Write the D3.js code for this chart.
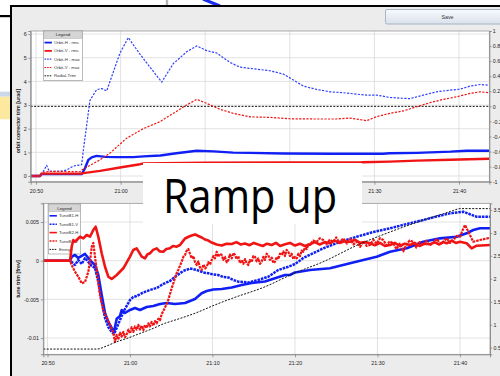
<!DOCTYPE html>
<html>
<head>
<meta charset="utf-8">
<script src="https://cdn.jsdelivr.net/npm/d3@7"></script>
<style>
  html, body { margin: 0; padding: 0; background: #fff; }
  svg { display: block; font-family: "Liberation Sans", Arial, sans-serif; }
</style>
</head>
<body>
<svg id="screen" width="500" height="376"></svg>
<script>
// ---- Data: time as minutes after 20:00 ----

// Orbit corrector trims [urad]
const orbitHrms = [[49.37,0],[50.47,0],[50.67,0.08],[55.4,0.08],[55.6,0.2],[55.79,0.33],[56.18,0.68],[56.58,0.79],[57.17,0.85],[58.2,0.81],[59.5,0.8],[61.5,0.8],[62.7,0.83],[64.7,0.87],[66.6,0.96],[69.0,1.07],[71.0,1.04],[73.3,0.99],[75.3,0.98],[79.2,0.95],[85,0.94],[91.0,0.94],[91.8,0.96],[95.0,0.98],[99.0,1.03],[100.9,1.07],[103.58,1.07]];
const orbitVrms = [[49.37,0],[50.47,0],[50.65,0.1],[55.4,0.1],[55.6,0.12],[57.57,0.22],[59.93,0.36],[62.3,0.5],[62.7,0.53],[70,0.56],[80,0.57],[88.5,0.58],[91.8,0.61],[95,0.65],[99,0.69],[103.58,0.73]];
const orbitHmax = [[49.37,0],[50.47,0],[50.86,0.2],[51.26,0.45],[51.57,0.2],[52.84,0.2],[53.6,0.25],[54.41,0.42],[55.4,0.48],[55.6,1.1],[56.38,3.2],[57.17,3.65],[57.77,3.7],[58.36,3.6],[59.14,4.4],[59.93,5.2],[60.91,5.85],[62.29,5.15],[63.48,4.6],[64.86,3.97],[66.23,4.75],[67.81,5.25],[69.0,5.5],[70.18,5.3],[71.36,5.2],[72.93,4.8],[74.11,4.6],[75.3,4.55],[77.66,4.45],[79.23,4.31],[80.42,4.06],[81.6,3.8],[83.18,3.66],[84.75,3.56],[86.32,3.52],[87.9,3.46],[89.09,3.42],[90.27,3.42],[91.84,3.32],[94.2,3.27],[95.78,3.42],[97.36,3.56],[98.94,3.63],[100.12,3.67],[101.3,3.8],[102.48,3.87],[103.58,3.84]];
const orbitVmax = [[49.37,0],[50.47,0],[50.67,0.15],[51.65,0.2],[55.2,0.18],[55.4,0.25],[56.38,0.45],[57.57,0.68],[58.75,0.97],[60.72,1.6],[62.68,2.0],[64.66,2.3],[66.23,2.65],[67.81,3.0],[69.0,3.24],[70.18,3.07],[71.75,2.82],[73.32,2.65],[75.3,2.5],[77.66,2.48],[80.02,2.42],[83.18,2.41],[85.54,2.41],[87.12,2.45],[89.09,2.34],[90.27,2.51],[91.84,2.65],[93.42,2.75],[95.0,2.93],[96.57,3.1],[98.15,3.24],[99.73,3.35],[101.3,3.49],[102.48,3.56],[103.58,3.52]];
// Radial trim on the right-hand axis
const radialTrim = [[49.37,0],[103.58,0]];

// Tune trims [frev]
const tuneB1H = [[49.49,0],[52.73,0],[52.93,0.48e-3],[53.33,0.74e-3],[53.73,0.35e-3],[54.15,0.61e-3],[54.55,0.87e-3],[54.95,0.35e-3],[55.36,-0.17e-3],[55.76,-0.56e-3],[56.16,-1.85e-3],[56.57,-4.43e-3],[56.97,-6.76e-3],[57.37,-7.92e-3],[57.78,-8.7e-3],[58.06,-9.21e-3],[58.39,-7.5e-3],[58.79,-7.14e-3],[58.99,-6.37e-3],[59.39,-6.76e-3],[60.0,-6.37e-3],[60.61,-6.11e-3],[61.21,-6.37e-3],[62.02,-5.98e-3],[62.82,-5.85e-3],[63.64,-5.59e-3],[64.45,-5.47e-3],[65.45,-5.59e-3],[66.67,-5.47e-3],[67.88,-4.95e-3],[68.69,-4.21e-3],[69.3,-3.91e-3],[70.1,-3.72e-3],[71.12,-3.66e-3],[72.33,-3.46e-3],[73.54,-3.14e-3],[74.75,-2.88e-3],[76.36,-2.69e-3],[77.58,-2.27e-3],[78.79,-1.85e-3],[79.39,-1.85e-3],[80.0,-1.52e-3],[81.82,-1.2e-3],[84.24,-0.98e-3],[86.67,-0.34e-3],[88.28,0.09e-3],[89.9,0.52e-3],[91.52,1.16e-3],[93.54,1.6e-3],[95.55,2.45e-3],[97.58,2.89e-3],[99.6,3.1e-3],[100.81,3.54e-3],[101.61,3.97e-3],[102.42,4.19e-3],[103.64,4.19e-3]];
const tuneB1V = [[49.49,0],[52.73,0],[52.93,-0.17e-3],[53.33,-0.56e-3],[53.73,0.09e-3],[54.15,-0.43e-3],[54.55,0.35e-3],[54.95,-0.17e-3],[55.36,-0.68e-3],[55.76,-0.94e-3],[56.16,-2.75e-3],[56.57,-5.34e-3],[56.97,-7.4e-3],[57.37,-8.57e-3],[57.78,-9.21e-3],[58.06,-9.47e-3],[58.39,-8.7e-3],[58.79,-7.66e-3],[59.19,-6.63e-3],[59.6,-5.85e-3],[60.0,-5.08e-3],[60.4,-4.69e-3],[60.81,-4.56e-3],[61.61,-4.11e-3],[62.42,-3.79e-3],[63.24,-3.53e-3],[64.04,-3.01e-3],[64.85,-2.62e-3],[65.66,-1.91e-3],[66.46,-1.33e-3],[67.27,-1.01e-3],[68.08,-1.2e-3],[68.88,-1.52e-3],[69.49,-1.63e-3],[70.1,-1.78e-3],[70.7,-1.85e-3],[71.31,-2.11e-3],[71.92,-2.17e-3],[72.52,-2.49e-3],[73.13,-2.71e-3],[73.73,-2.75e-3],[74.34,-2.82e-3],[75.55,-2.49e-3],[76.76,-2.07e-3],[77.98,-1.2e-3],[79.19,-0.78e-3],[80.0,-0.43e-3],[81.01,0.35e-3],[83.43,1.6e-3],[85.45,2.42e-3],[87.48,3.1e-3],[89.5,3.71e-3],[91.52,4.19e-3],[93.54,4.74e-3],[95.55,5.26e-3],[97.17,5.71e-3],[98.79,6.12e-3],[99.6,6.23e-3],[100.4,6.33e-3],[101.21,6.0e-3],[102.02,5.68e-3],[103.64,5.68e-3]];
const tuneB2H = [[49.49,0],[52.73,0],[52.93,1.81e-3],[53.13,2.67e-3],[53.33,2.45e-3],[53.94,3.1e-3],[54.34,2.89e-3],[54.75,3.32e-3],[55.15,3.1e-3],[55.55,3.97e-3],[55.84,4.39e-3],[56.16,3.1e-3],[56.57,0.96e-3],[56.97,-0.78e-3],[57.37,-2.07e-3],[57.78,-2.36e-3],[58.39,-1.85e-3],[59.19,-0.98e-3],[60.0,0.52e-3],[60.4,1.38e-3],[60.81,1.6e-3],[61.42,0.52e-3],[61.82,0.31e-3],[62.1,0.8e-3],[62.42,0.96e-3],[62.8,1.4e-3],[63.24,1.6e-3],[63.6,1.2e-3],[64.04,1.16e-3],[64.4,1.5e-3],[64.85,1.6e-3],[65.2,1.9e-3],[65.66,1.81e-3],[66.06,2.03e-3],[66.4,2.5e-3],[66.67,2.87e-3],[67.1,3.1e-3],[67.48,3.26e-3],[67.9,3.4e-3],[68.28,3.19e-3],[68.7,3.0e-3],[69.09,2.74e-3],[69.5,2.6e-3],[69.9,2.35e-3],[70.5,2.1e-3],[71.12,1.96e-3],[71.7,2.2e-3],[72.33,2.16e-3],[72.9,2.4e-3],[73.4,2.1e-3],[73.94,2.22e-3],[74.5,2.0e-3],[75.0,2.3e-3],[75.55,2.09e-3],[76.1,1.9e-3],[76.6,2.2e-3],[77.18,2.03e-3],[77.7,2.3e-3],[78.2,1.9e-3],[78.79,2.12e-3],[79.4,2.3e-3],[80.0,1.96e-3],[80.6,2.2e-3],[81.2,1.9e-3],[81.82,2.12e-3],[82.4,2.4e-3],[83.0,2.1e-3],[83.6,2.4e-3],[84.24,2.25e-3],[84.8,2.6e-3],[85.4,2.3e-3],[86.0,2.5e-3],[86.67,2.45e-3],[87.3,2.7e-3],[87.9,2.3e-3],[88.5,2.4e-3],[89.09,2.25e-3],[89.7,2.0e-3],[90.3,2.3e-3],[90.9,1.9e-3],[91.52,2.03e-3],[92.1,2.3e-3],[92.7,1.9e-3],[93.3,2.2e-3],[93.94,2.03e-3],[94.5,2.3e-3],[95.1,1.9e-3],[95.7,2.2e-3],[96.36,2.12e-3],[96.9,2.4e-3],[97.5,2.1e-3],[98.0,2.4e-3],[98.39,2.25e-3],[99.0,2.6e-3],[99.5,2.3e-3],[100.0,2.45e-3],[100.81,2.25e-3],[101.42,1.6e-3],[102.02,1.94e-3],[103.64,2.03e-3]];
const tuneB2V = [[49.49,0],[52.73,0],[52.93,-0.56e-3],[53.33,-1.42e-3],[53.73,-2.07e-3],[54.15,-2.92e-3],[54.55,-2.75e-3],[54.95,-1.42e-3],[55.15,-0.17e-3],[55.36,1.81e-3],[55.55,2.29e-3],[55.96,-1.2e-3],[56.36,-4.43e-3],[56.76,-6.37e-3],[57.18,-7.4e-3],[57.58,-8.31e-3],[57.98,-9.34e-3],[58.18,-10.5e-3],[58.38,-9.6e-3],[58.58,-10.2e-3],[58.79,-9.3e-3],[58.99,-9.8e-3],[59.19,-9.2e-3],[59.4,-9.9e-3],[59.6,-9.5e-3],[59.8,-8.9e-3],[60.0,-9.4e-3],[60.2,-8.6e-3],[60.4,-9.2e-3],[60.6,-8.5e-3],[60.81,-8.9e-3],[61.01,-8.3e-3],[61.21,-8.9e-3],[61.41,-8.4e-3],[61.61,-9.0e-3],[61.82,-8.3e-3],[62.02,-8.7e-3],[62.22,-8.1e-3],[62.42,-8.5e-3],[62.62,-7.9e-3],[62.82,-8.4e-3],[63.03,-7.8e-3],[63.24,-8.1e-3],[63.44,-7.5e-3],[63.64,-7.7e-3],[63.84,-6.9e-3],[64.04,-6.5e-3],[64.45,-5.59e-3],[64.64,-5.08e-3],[65.05,-3.57e-3],[65.25,-2.92e-3],[65.66,-1.59e-3],[65.85,-1.2e-3],[66.27,-0.13e-3],[66.47,0.5e-3],[66.67,0.74e-3],[66.87,1.3e-3],[67.07,1.51e-3],[67.27,0.9e-3],[67.48,0.31e-3],[67.68,0.6e-3],[67.88,-0.2e-3],[68.08,-0.56e-3],[68.28,-0.1e-3],[68.49,-0.9e-3],[68.69,-1.2e-3],[68.9,-0.5e-3],[69.1,-1.0e-3],[69.3,-0.78e-3],[69.5,-0.2e-3],[69.7,-0.5e-3],[69.9,0.09e-3],[70.1,0.6e-3],[70.3,0.3e-3],[70.51,1.16e-3],[70.7,0.5e-3],[70.9,0.9e-3],[71.12,0.74e-3],[71.3,0.1e-3],[71.5,0.5e-3],[71.72,-0.2e-3],[71.92,0.09e-3],[72.1,0.8e-3],[72.33,0.3e-3],[72.53,1.0e-3],[72.73,0.74e-3],[72.93,0.2e-3],[73.13,0.6e-3],[73.33,-0.3e-3],[73.54,0.09e-3],[73.74,-0.4e-3],[73.94,0.2e-3],[74.14,-0.3e-3],[74.34,-0.56e-3],[74.54,0.1e-3],[74.74,-0.2e-3],[74.95,0.6e-3],[75.15,0.52e-3],[75.35,-0.1e-3],[75.55,0.3e-3],[75.76,-0.4e-3],[75.96,-0.13e-3],[76.16,0.5e-3],[76.36,0.1e-3],[76.56,0.9e-3],[76.76,0.74e-3],[76.96,0.1e-3],[77.18,0.4e-3],[77.38,-0.3e-3],[77.58,-0.13e-3],[77.78,0.5e-3],[77.98,0.2e-3],[78.18,0.9e-3],[78.39,0.74e-3],[78.59,1.2e-3],[78.79,0.6e-3],[78.99,1.4e-3],[79.19,1.16e-3],[79.39,0.6e-3],[79.59,0.9e-3],[79.8,0.2e-3],[80.0,0.5e-3],[80.21,0.31e-3],[80.41,0.9e-3],[80.61,0.6e-3],[80.81,1.3e-3],[81.01,1.16e-3],[81.21,1.7e-3],[81.42,1.5e-3],[81.62,2.1e-3],[81.82,2.03e-3],[82.2,2.6e-3],[82.63,2.45e-3],[83.0,2.9e-3],[83.43,2.67e-3],[83.8,2.1e-3],[84.2,2.7e-3],[84.64,2.45e-3],[85.0,3.0e-3],[85.4,2.3e-3],[85.85,2.89e-3],[86.3,2.2e-3],[86.7,2.8e-3],[87.1,2.1e-3],[87.48,2.45e-3],[87.9,1.8e-3],[88.3,2.5e-3],[88.7,1.9e-3],[89.09,2.03e-3],[89.5,2.7e-3],[89.9,2.2e-3],[90.3,2.9e-3],[90.7,2.67e-3],[91.1,2.0e-3],[91.5,2.5e-3],[91.92,2.25e-3],[92.3,1.5e-3],[92.7,2.2e-3],[93.13,1.2e-3],[93.5,2.1e-3],[93.9,2.6e-3],[94.34,2.45e-3],[94.7,1.7e-3],[95.1,2.4e-3],[95.55,2.03e-3],[95.9,2.6e-3],[96.3,2.0e-3],[96.76,2.25e-3],[97.2,2.8e-3],[97.6,2.2e-3],[97.98,2.45e-3],[98.4,2.9e-3],[98.8,2.3e-3],[99.19,2.67e-3],[99.6,3.2e-3],[100.0,3.1e-3],[100.3,3.9e-3],[100.61,4.61e-3],[101.01,3.75e-3],[101.61,2.45e-3],[102.42,2.67e-3],[103.64,2.97e-3]];
// Beam energy [TeV], right-hand axis
const energy = [[49.49,0.47],[56.0,0.47],[57.2,0.54],[58.4,0.63],[59.6,0.7],[61.2,0.81],[62.8,0.92],[64.2,1.03],[64.9,1.07],[68.3,1.28],[70.0,1.41],[72.3,1.57],[76.4,1.83],[80.0,2.13],[83.4,2.37],[87.5,2.73],[91.5,3.02],[95.6,3.28],[98.0,3.42],[99.2,3.49],[100.0,3.53],[103.64,3.53]];

// ---- Ticks and labels ----
const timeTicks = [50, 60, 70, 80, 90, 100];
const timeLabels = ["20:50", "21:00", "21:10", "21:20", "21:30", "21:40"];
const orbitTicks = [0, 1, 2, 3, 4, 5, 6];
const orbitLabels = ["0", "1", "2", "3", "4", "5", "6"];
const trimTicks = [-1, -0.8, -0.6, -0.4, -0.2, 0, 0.2, 0.4, 0.6, 0.8, 1];
const trimLabels = ["-1", "-0.8", "-0.6", "-0.4", "-0.2", "0", "0.2", "0.4", "0.6", "0.8", "1"];
const tuneTicks = [-0.01, -0.005, 0, 0.005];
const tuneLabels = ["-0.01", "-0.005", "0", "0.005"];
const energyTicks = [0.5, 1, 1.5, 2, 2.5, 3, 3.5];
const energyLabels = ["0.5", "1", "1.5", "2", "2.5", "3", "3.5"];

const BLUE = "#1020f4", BLUE_D = "#3040ff", RED = "#f01414", BLACK = "#111";
const FONT = "'Liberation Sans', Arial, sans-serif";

const svg = d3.select("#screen");

// ---- Surrounding desktop / window chrome ----
svg.append("rect").attr("x", 0).attr("y", 0).attr("width", 500).attr("height", 376).attr("fill", "#fff");
svg.append("rect").attr("x", 0).attr("y", 15).attr("width", 11).attr("height", 2.2).attr("fill", "#000");
svg.append("rect").attr("x", 0).attr("y", 91.7).attr("width", 11).attr("height", 5).attr("fill", "#cbd8ea");
svg.append("rect").attr("x", 0).attr("y", 96.7).attr("width", 11).attr("height", 22.6).attr("fill", "#fde8a0");
svg.append("rect").attr("x", 165.8).attr("y", 0).attr("width", 2.4).attr("height", 6).attr("fill", "#b4b4b4");
svg.append("line").attr("x1", 203).attr("y1", -1).attr("x2", 220).attr("y2", 6)
  .attr("stroke", "#1a2cf0").attr("stroke-width", 3);

svg.append("rect").attr("x", 10).attr("y", 5).attr("width", 490).attr("height", 371).attr("fill", "#ececec");
svg.append("rect").attr("x", 10).attr("y", 5).attr("width", 490).attr("height", 2).attr("fill", "#000");
svg.append("rect").attr("x", 10).attr("y", 5).attr("width", 2).attr("height", 371).attr("fill", "#000");

// Save button
const grad = svg.append("defs").append("linearGradient").attr("id", "btn").attr("x1", 0).attr("y1", 0).attr("x2", 0).attr("y2", 1);
grad.append("stop").attr("offset", "0%").attr("stop-color", "#f7f9fc");
grad.append("stop").attr("offset", "100%").attr("stop-color", "#dbe2ec");
svg.append("rect").attr("x", 385.5).attr("y", 9.5).attr("width", 120).attr("height", 14.5).attr("rx", 1.5)
  .attr("fill", "url(#btn)").attr("stroke", "#98a6ba").attr("stroke-width", 0.8);
svg.append("text").attr("x", 447.5).attr("y", 18.6).attr("text-anchor", "middle")
  .attr("font-size", 5.3).attr("font-family", FONT).attr("fill", "#333").text("Save");

// ---- Helpers ----
function styleAxis(g) {
  g.attr("font-family", FONT).attr("font-size", 5.3);
  g.select(".domain").attr("stroke", "#7a7a7a").attr("stroke-width", 0.8);
  g.selectAll(".tick line").attr("stroke", "#7a7a7a").attr("stroke-width", 0.7);
  g.selectAll(".tick text").attr("fill", "#222");
}

function drawLegend(g, x, y, w, rowH, items) {
  const h = 8 + rowH * items.length;
  g.append("rect").attr("x", x).attr("y", y).attr("width", w).attr("height", h)
    .attr("fill", "#fff").attr("stroke", "#8c8c8c").attr("stroke-width", 0.6);
  g.append("rect").attr("x", x + 0.6).attr("y", y + 0.6).attr("width", w - 1.2).attr("height", 7)
    .attr("fill", "#d5d5d5").attr("stroke", "#a0a0a0").attr("stroke-width", 0.4);
  g.append("text").attr("x", x + w / 2).attr("y", y + 5.6).attr("text-anchor", "middle")
    .attr("font-size", 4.3).attr("font-family", FONT).attr("fill", "#222").text("Legend");
  items.forEach((it, i) => {
    const cy = y + 11.8 + i * rowH;
    g.append("line").attr("x1", x + 1.2).attr("x2", x + 8.6).attr("y1", cy).attr("y2", cy)
      .attr("stroke", it.color).attr("stroke-width", it.width)
      .attr("stroke-dasharray", it.dash || null);
    g.append("text").attr("x", x + 10.6).attr("y", cy + 1.5)
      .attr("font-size", 4.3).attr("font-family", FONT).attr("fill", "#333").text(it.label);
  });
}

function grid(g, x, y, xt, yt, P) {
  g.selectAll(null).data(yt).join("line")
    .attr("x1", P.l).attr("x2", P.r).attr("y1", d => y(d)).attr("y2", d => y(d))
    .attr("stroke", "#d6d6d6").attr("stroke-width", 0.7);
  g.selectAll(null).data(xt).join("line")
    .attr("y1", P.t).attr("y2", P.b).attr("x1", d => x(d)).attr("x2", d => x(d))
    .attr("stroke", "#d6d6d6").attr("stroke-width", 0.7);
}

function plotLine(g, data, x, y, color, width, dash, curve) {
  g.append("path").datum(data)
    .attr("d", d3.line().x(d => x(d[0])).y(d => y(d[1])).curve(curve || d3.curveLinear))
    .attr("fill", "none").attr("stroke", color).attr("stroke-width", width)
    .attr("stroke-linejoin", "round").attr("stroke-dasharray", dash || null);
}

// ---- Upper chart: orbit corrector trims ----
const T = { l: 30.7, r: 489.3, t: 31, b: 181.7 };
const xT = d3.scaleLinear().domain([49.374, 103.58]).range([T.l, T.r]);
const yTL = d3.scaleLinear().domain([-0.24, 6.13]).range([T.b, T.t]);
const yTR = d3.scaleLinear().domain([-1, 1]).range([T.b, T.t]);

svg.append("clipPath").attr("id", "clipT").append("rect")
  .attr("x", T.l).attr("y", T.t).attr("width", T.r - T.l).attr("height", T.b - T.t);
svg.append("rect").attr("x", T.l).attr("y", T.t).attr("width", T.r - T.l).attr("height", T.b - T.t).attr("fill", "#fff");
const gT = svg.append("g").attr("clip-path", "url(#clipT)");
grid(gT, xT, yTL, timeTicks, orbitTicks, T);
plotLine(gT, radialTrim, xT, yTR, BLACK, 1, "2,1.4");
plotLine(gT, orbitHrms, xT, yTL, BLUE, 2.4);
plotLine(gT, orbitVrms, xT, yTL, RED, 2.4);
plotLine(gT, orbitHmax, xT, yTL, BLUE_D, 1.2, "2.2,1.4");
plotLine(gT, orbitVmax, xT, yTL, RED, 1.2, "2.2,1.4");

svg.append("g").attr("transform", `translate(${T.l},0)`)
  .call(d3.axisLeft(yTL).tickValues(orbitTicks).tickFormat((d, i) => orbitLabels[i]).tickSizeOuter(0).tickSize(2.5).tickPadding(1.6))
  .call(styleAxis);
svg.append("g").attr("transform", `translate(${T.r},0)`)
  .call(d3.axisRight(yTR).tickValues(trimTicks).tickFormat((d, i) => trimLabels[i]).tickSizeOuter(0).tickSize(2.2).tickPadding(1.3))
  .call(styleAxis);
svg.append("g").attr("transform", `translate(0,${T.b})`)
  .call(d3.axisBottom(xT).tickValues(timeTicks).tickFormat((d, i) => timeLabels[i]).tickSizeOuter(0).tickSize(3).tickPadding(4.4))
  .call(styleAxis);
svg.append("rect").attr("x", T.l).attr("y", T.t).attr("width", T.r - T.l).attr("height", T.b - T.t)
  .attr("fill", "none").attr("stroke", "#8a8a8a").attr("stroke-width", 0.7);

svg.append("text").attr("transform", "translate(19.8,121) rotate(-90)").attr("text-anchor", "middle")
  .attr("font-size", 5.3).attr("font-weight", "bold").attr("font-family", FONT).attr("fill", "#222")
  .text("orbit corrector trim [urad]");

drawLegend(svg.append("g"), 43.3, 30.8, 39.4, 8.3, [
  { label: "Orbit-H - rms", color: BLUE, width: 1.8 },
  { label: "Orbit-V - rms", color: RED, width: 1.8 },
  { label: "Orbit-H - max", color: BLUE_D, width: 1.2, dash: "1.6,1" },
  { label: "Orbit-V - max", color: RED, width: 1.2, dash: "1.6,1" },
  { label: "Radial-Trim", color: BLACK, width: 1, dash: "1.6,1" }
]);

// ---- Lower chart: tune trims and energy ----
const B = { l: 43.3, r: 490, t: 203.3, b: 354.3 };
const xB = d3.scaleLinear().domain([49.49, 103.64]).range([B.l, B.r]);
const yBL = d3.scaleLinear().domain([-0.0121, 0.00742]).range([B.b, B.t]);
const yBR = d3.scaleLinear().domain([0.356, 3.646]).range([B.b, B.t]);

svg.append("clipPath").attr("id", "clipB").append("rect")
  .attr("x", B.l).attr("y", B.t).attr("width", B.r - B.l).attr("height", B.b - B.t);
svg.append("rect").attr("x", B.l).attr("y", B.t).attr("width", B.r - B.l).attr("height", B.b - B.t).attr("fill", "#fff");
const gB = svg.append("g").attr("clip-path", "url(#clipB)");
grid(gB, xB, yBL, timeTicks, tuneTicks, B);

drawLegend(svg.append("g"), 48.3, 204, 32.4, 8.4, [
  { label: "TuneB1-H", color: BLUE, width: 1.6 },
  { label: "TuneB1-V", color: BLUE, width: 1.6, dash: "2,1" },
  { label: "TuneB2-H", color: RED, width: 1.6 },
  { label: "TuneB2-V", color: RED, width: 1.6, dash: "2,1" },
  { label: "Energy", color: BLACK, width: 1, dash: "1.6,1" }
]);

const gB2 = svg.append("g").attr("clip-path", "url(#clipB)");
plotLine(gB2, tuneB1H, xB, yBL, BLUE, 2.6);
plotLine(gB2, tuneB1V, xB, yBL, BLUE, 2.5, "2.6,0.9");
plotLine(gB2, tuneB2H, xB, yBL, RED, 2.6);
plotLine(gB2, tuneB2V, xB, yBL, RED, 2.2, "2.6,0.9");
plotLine(gB2, energy, xB, yBR, BLACK, 1, "2,1.4", d3.curveMonotoneX);

svg.append("g").attr("transform", `translate(${B.l},0)`)
  .call(d3.axisLeft(yBL).tickValues(tuneTicks).tickFormat((d, i) => tuneLabels[i]).tickSizeOuter(0).tickSize(2.5).tickPadding(1.8))
  .call(styleAxis);
svg.append("g").attr("transform", `translate(${B.r},0)`)
  .call(d3.axisRight(yBR).tickValues(energyTicks).tickFormat((d, i) => energyLabels[i]).tickSizeOuter(0).tickSize(2.2).tickPadding(1.3))
  .call(styleAxis);
svg.append("g").attr("transform", `translate(0,${B.b})`)
  .call(d3.axisBottom(xB).tickValues(timeTicks).tickFormat((d, i) => timeLabels[i]).tickSizeOuter(0).tickSize(3).tickPadding(4))
  .call(styleAxis);
svg.append("rect").attr("x", B.l).attr("y", B.t).attr("width", B.r - B.l).attr("height", B.b - B.t)
  .attr("fill", "none").attr("stroke", "#8a8a8a").attr("stroke-width", 0.7);

svg.append("text").attr("transform", "translate(20,279) rotate(-90)").attr("text-anchor", "middle")
  .attr("font-size", 5.3).attr("font-weight", "bold").attr("font-family", FONT).attr("fill", "#222")
  .text("tune trim [frev]");

// ---- Slide caption box ----
svg.append("rect").attr("x", 143).attr("y", 163).attr("width", 219).attr("height", 61).attr("fill", "#fff");
svg.append("text").attr("x", 163).attr("y", 213.3)
  .attr("font-size", 48).attr("font-family", "'Open Sans', 'Liberation Sans', sans-serif")
  .attr("textLength", 174).attr("lengthAdjust", "spacingAndGlyphs")
  .attr("fill", "#000").text("Ramp up");
</script>
</body>
</html>
